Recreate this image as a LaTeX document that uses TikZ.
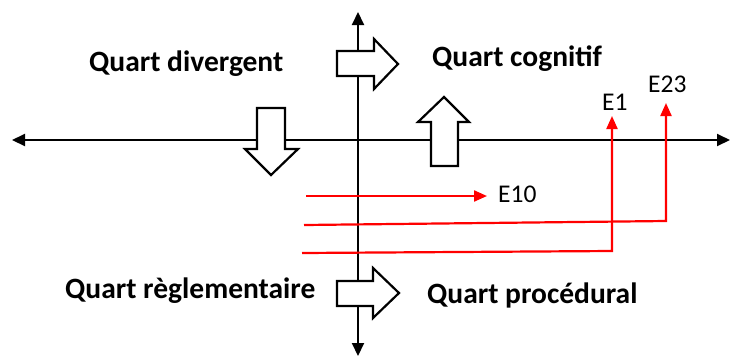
\documentclass[tikz,border=0pt]{standalone}
\usepackage{fontspec}
\setmainfont{Carlito}
\usetikzlibrary{arrows.meta}

\tikzset{
  axis/.style={line width=2pt,{Triangle[length=13pt,width=12pt]}-{Triangle[length=13pt,width=12pt]}},
  bigarrow/.style={draw,line width=2.2pt,fill=white,line join=miter},
  flow/.style={red,line width=2.2pt,-{Triangle[length=13pt,width=11pt]}},
  quart/.style={anchor=base west,inner sep=0pt,font=\fontsize{29.5}{33}\selectfont\bfseries},
  event/.style={anchor=base west,inner sep=0pt,font=\fontsize{25.5}{29}\selectfont},
}

\begin{document}
\begin{tikzpicture}[x=1pt,y=-1pt]
  \useasboundingbox (0,0) rectangle (731,360);

  % axes
  \coordinate (west) at (12,140);
  \coordinate (east) at (730,140);
  \coordinate (north) at (358,12);
  \coordinate (south) at (358,356);
  \draw[axis] (west) -- (east);
  \draw[axis] (north) -- (south);

  % block arrows
  \draw[bigarrow] (337,51) -- (374,51) -- (374,39) -- (398,64) -- (374,89) -- (374,76) -- (337,76) -- cycle;
  \draw[bigarrow] (257,108) -- (285,108) -- (285,149) -- (298,149) -- (271,175) -- (245,149) -- (257,149) -- cycle;
  \draw[bigarrow] (431,166) -- (458,166) -- (458,122) -- (469,122) -- (444,97) -- (418,122) -- (431,122) -- cycle;
  \draw[bigarrow] (337,281) -- (373,281) -- (373,268) -- (399,293) -- (373,318) -- (373,306) -- (337,306) -- cycle;

  % quarters
  \node[quart] (div) at (89,71) {Quart divergent};
  \node[quart] (cog) at (432,66) {Quart cognitif};
  \node[quart] (reg) at (65,298) {Quart règlementaire};
  \node[quart] (proc) at (427,303) {Quart procédural};

  % events
  \node[event] (e10) at (498,202) {E10};
  \node[event] (e1) at (602,110) {E1};
  \node[event] (e23) at (648,92) {E23};

  \coordinate (s10) at (306,196);
  \coordinate (t10) at (487,196);
  \coordinate (s23) at (304,225);
  \coordinate (c23) at (666,221);
  \coordinate (t23) at (666,103);
  \coordinate (s1) at (302,253);
  \coordinate (c1) at (612,251);
  \coordinate (t1) at (612,116);

  \draw[flow] (s10) -- (t10);
  \draw[flow] (s23) -- (c23) -- (t23);
  \draw[flow] (s1) -- (c1) -- (t1);
\end{tikzpicture}
\end{document}
